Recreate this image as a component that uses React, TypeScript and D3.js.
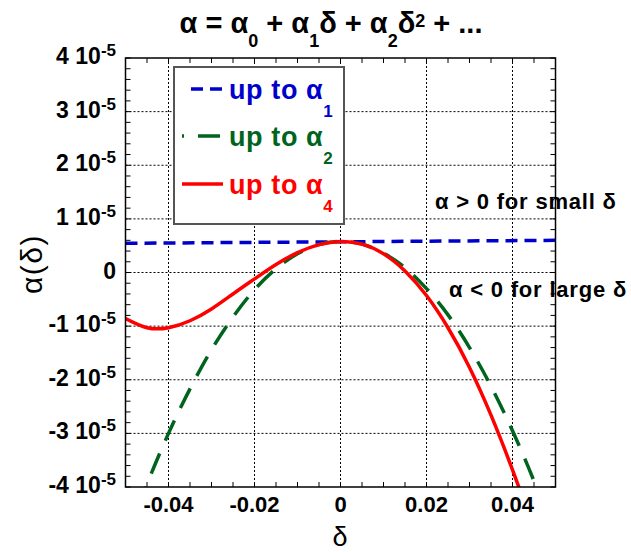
import React from "react";
import * as d3 from "d3";

// delta values (x) and alpha values in units of 1e-5
const DELTA = [-0.05, -0.045, -0.04, -0.035, -0.03, -0.025, -0.02, -0.015, -0.01, -0.005, 0, 0.005, 0.01, 0.015, 0.02, 0.025, 0.03, 0.035, 0.04, 0.045, 0.05];
const UP_TO_A4 = [-0.86, -1.03, -1.03, -0.9, -0.68, -0.4, -0.12, 0.15, 0.37, 0.52, 0.58, 0.53, 0.35, 0.03, -0.43, -1.03, -1.77, -2.66, -3.68, -4.82, -6.1];
const UP_TO_A2 = [-5.01, -3.95, -3.0, -2.17, -1.44, -0.83, -0.32, 0.07, 0.35, 0.52, 0.58, 0.53, 0.36, 0.09, -0.3, -0.79, -1.4, -2.12, -2.95, -3.89, -4.95];
const UP_TO_A1_DELTA = [-0.05, 0.05];
const UP_TO_A1 = [0.545, 0.6];

const X_TICKS = [-0.04, -0.02, 0, 0.02, 0.04];
const X_TICK_LABELS = ["-0.04", "-0.02", "0", "0.02", "0.04"];
const Y_TICKS = [4, 3, 2, 1, 0, -1, -2, -3, -4];
const Y_TICK_LABELS = ["4", "3", "2", "1", "0", "-1", "-2", "-3", "-4"];

const FONT = "'Liberation Sans', Arial, sans-serif";
const BLUE = "#0000cc";
const GREEN = "#00641e";
const RED = "#ff0000";

export default function App() {
  const x = d3.scaleLinear().domain([-0.05, 0.05]).range([125.5, 555.5]);
  const y = d3.scaleLinear().domain([-4, 4]).range([487, 58]);
  const [x0, x1] = x.range();
  const [yb, yt] = y.range();

  const line = d3
    .line<[number, number]>()
    .x((d) => x(d[0]))
    .y((d) => y(d[1]))
    .curve(d3.curveNatural);
  const straight = d3
    .line<[number, number]>()
    .x((d) => x(d[0]))
    .y((d) => y(d[1]));

  const redPts = DELTA.map((d, i) => [d, UP_TO_A4[i]] as [number, number]);
  const greenPts = DELTA.map((d, i) => [d, UP_TO_A2[i]] as [number, number]);
  const bluePts = UP_TO_A1_DELTA.map((d, i) => [d, UP_TO_A1[i]] as [number, number]);

  const xMinor = d3.range(-0.05, 0.05001, 0.005).map((v) => +v.toFixed(4));
  const yMinor = d3.range(-4, 4.001, 0.2).map((v) => +v.toFixed(2));
  const tl = 5;

  const legendRows = [
    { color: BLUE, sub: "1", dash: "12,7", offset: 0, width: 3.5, y: 89, x0: 191 },
    { color: GREEN, sub: "2", dash: "22,14", offset: 20, width: 3.5, y: 136, x0: 182 },
    { color: RED, sub: "4", dash: null, offset: 0, width: 3.5, y: 184, x0: 182 },
  ];

  return (
    <svg
      width={631}
      height={552}
      style={{ position: "absolute", left: 0, top: 0, background: "#fff" }}
      fontFamily={FONT}
    >
      <defs>
        <clipPath id="plotClip">
          <rect x={x0} y={yt} width={x1 - x0} height={yb - yt} />
        </clipPath>
      </defs>
      <rect x={0} y={0} width={631} height={552} fill="#fff" />

      {/* grid */}
      {X_TICKS.map((t) => (
        <line key={"gx" + t} x1={x(t)} x2={x(t)} y1={yt} y2={yb} stroke="#000" strokeWidth={1} strokeDasharray="2,2" />
      ))}
      {Y_TICKS.filter((t) => Math.abs(t) < 4).map((t) => (
        <line key={"gy" + t} x1={x0} x2={x1} y1={y(t)} y2={y(t)} stroke="#000" strokeWidth={1} strokeDasharray="2,2" />
      ))}

      {/* ticks */}
      {xMinor.map((t) => (
        <g key={"tx" + t}>
          <line x1={x(t)} x2={x(t)} y1={yb} y2={yb - tl} stroke="#000" strokeWidth={1} />
          <line x1={x(t)} x2={x(t)} y1={yt} y2={yt + tl} stroke="#000" strokeWidth={1} />
        </g>
      ))}
      {yMinor.map((t) => (
        <g key={"ty" + t}>
          <line x1={x0} x2={x0 + tl} y1={y(t)} y2={y(t)} stroke="#000" strokeWidth={1} />
          <line x1={x1} x2={x1 - tl} y1={y(t)} y2={y(t)} stroke="#000" strokeWidth={1} />
        </g>
      ))}

      {/* curves */}
      <g clipPath="url(#plotClip)">
        <path d={straight(bluePts) || ""} fill="none" stroke={BLUE} strokeWidth={3.5} strokeDasharray="12,7" />
        <path d={line(greenPts) || ""} fill="none" stroke={GREEN} strokeWidth={3.5} strokeDasharray="22,14" />
        <path d={line(redPts) || ""} fill="none" stroke={RED} strokeWidth={3.5} />
      </g>

      {/* frame */}
      <rect x={x0} y={yt} width={x1 - x0} height={yb - yt} fill="none" stroke="#000" strokeWidth={1.5} />

      {/* legend */}
      <rect x={174} y={67} width={170} height={157} fill="#fff" stroke="#555" strokeWidth={2} />
      {legendRows.map((r) => (
        <g key={r.sub}>
          <line
            x1={r.x0}
            x2={223}
            y1={r.y}
            y2={r.y}
            stroke={r.color}
            strokeWidth={r.width}
            strokeDasharray={r.dash || undefined}
            strokeDashoffset={r.offset}
          />
          <text x={229} y={r.y + 10} fill={r.color} fontSize={27} fontWeight="bold" letterSpacing={0.6}>
            up to α
            <tspan fontSize={17} dy={18}>
              {r.sub}
            </tspan>
          </text>
        </g>
      ))}

      {/* y tick labels */}
      {Y_TICKS.map((t, i) => (
        <text key={"yl" + t} x={116} y={y(t) + 6} textAnchor="end" fontSize={23} fontWeight="bold" fill="#000">
          {t === 0 ? (
            "0"
          ) : (
            <>
              {Y_TICK_LABELS[i] + " 10"}
              <tspan fontSize={17} dy={-8}>
                -5
              </tspan>
            </>
          )}
        </text>
      ))}

      {/* x tick labels */}
      {X_TICKS.map((t, i) => (
        <text key={"xl" + t} x={x(t)} y={512} textAnchor="middle" fontSize={22} fontWeight="bold" fill="#000">
          {X_TICK_LABELS[i]}
        </text>
      ))}

      {/* axis titles */}
      <text x={340} y={546} textAnchor="middle" fontSize={27} fill="#000">
        δ
      </text>
      <text transform="translate(42,264) rotate(-90)" textAnchor="middle" fontSize={30} fill="#000" letterSpacing={1.5}>
        α(δ)
      </text>

      {/* title */}
      <text x={331} y={33} textAnchor="middle" fontSize={29} fontWeight="bold" fill="#000">
        α = α<tspan fontSize={18} dy={14}>0</tspan>
        <tspan dy={-14}> + α</tspan>
        <tspan fontSize={18} dy={14}>1</tspan>
        <tspan dy={-14}>δ + α</tspan>
        <tspan fontSize={18} dy={14}>2</tspan>
        <tspan dy={-14}>δ</tspan>
        <tspan fontSize={18} dy={-6}>2</tspan>
        <tspan dy={6}> + ...</tspan>
      </text>

      {/* annotations */}
      <text x={435} y={209} fontSize={22} fontWeight="bold" fill="#000" letterSpacing={0.8}>
        α &gt; 0 for small δ
      </text>
      <text x={449} y={297} fontSize={22} fontWeight="bold" fill="#000" letterSpacing={0.8}>
        α &lt; 0 for large δ
      </text>
    </svg>
  );
}
